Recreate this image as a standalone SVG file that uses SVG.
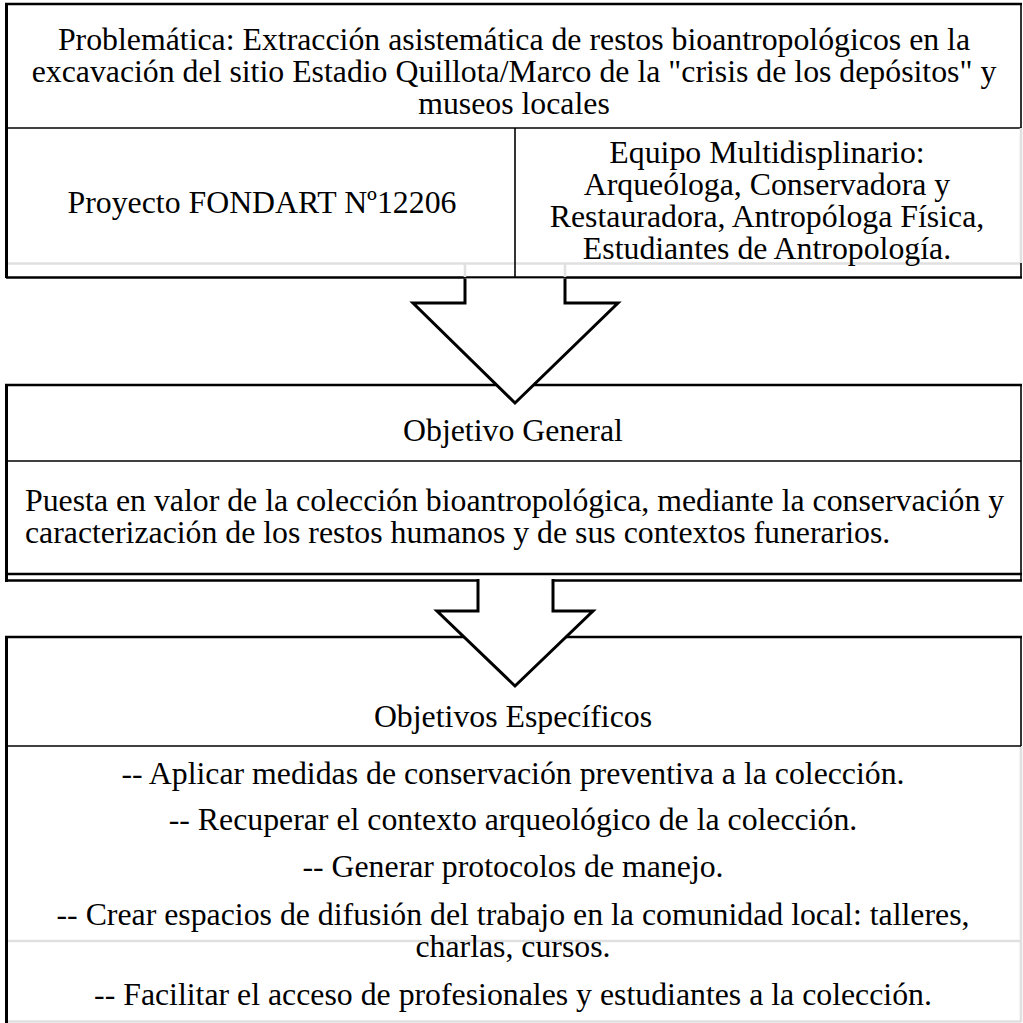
<svg xmlns="http://www.w3.org/2000/svg" width="1023" height="1023" viewBox="0 0 1023 1023">
<style>
text{font-family:"Liberation Serif","Times New Roman",serif;font-size:31.8px;fill:#000}
.c{text-anchor:middle}
.k{stroke:#000;stroke-width:1.6;fill:none}
.kt{stroke:#000;stroke-width:2.4;fill:none}
.kl{stroke:#000;stroke-width:3;fill:none}
.g{stroke:#e0e0e0;stroke-width:2.6;fill:none}
.arrow{fill:#fff;stroke:#000;stroke-width:3;stroke-linejoin:miter}
</style>
<rect width="1023" height="1023" fill="#fff"/>
<g id="problematica">
<line class="kt" x1="5" y1="4" x2="1022" y2="4"/>
<line class="k" x1="1021" y1="4" x2="1021" y2="128"/>
<line class="k" x1="6" y1="128" x2="1021" y2="128"/>
<line class="g" x1="1021" y1="128" x2="1021" y2="263"/>
<line class="g" x1="6" y1="263.5" x2="1021" y2="263.5"/>
<line class="k" x1="1021" y1="263" x2="1021" y2="278"/>
<line class="kt" x1="6" y1="277.5" x2="1022" y2="277.5"/>
<line class="k" x1="515" y1="128" x2="515" y2="278"/>
<line class="kl" x1="6.5" y1="3" x2="6.5" y2="278"/>
<text class="c" x="514" y="50">Problemática: Extracción asistemática de restos bioantropológicos en la</text>
<text class="c" x="514" y="82">excavación del sitio Estadio Quillota/Marco de la "crisis de los depósitos" y</text>
<text class="c" x="514" y="114">museos locales</text>
</g>
<g id="proyecto">
<text class="c" x="262" y="213">Proyecto FONDART Nº12206</text>
</g>
<g id="equipo">
<text class="c" x="767" y="163">Equipo Multidisplinario:</text>
<text class="c" x="767" y="195">Arqueóloga, Conservadora y</text>
<text class="c" x="767" y="227">Restauradora, Antropóloga Física,</text>
<text class="c" x="767" y="259">Estudiantes de Antropología.</text>
</g>
<g id="objetivo-general">
<line class="kt" x1="5" y1="385" x2="1022" y2="385"/>
<line class="k" x1="1021" y1="385" x2="1021" y2="581"/>
<line class="k" x1="6" y1="461" x2="1021" y2="461"/>
<line class="kt" x1="6" y1="574" x2="1022" y2="574"/>
<line class="kt" x1="6" y1="580.5" x2="1022" y2="580.5"/>
<line class="kl" x1="6.5" y1="384" x2="6.5" y2="582"/>
<text class="c" x="513" y="441">Objetivo General</text>
<text x="25" y="511">Puesta en valor de la colección bioantropológica, mediante la conservación y</text>
<text x="25" y="543">caracterización de los restos humanos y de sus contextos funerarios.</text>
</g>
<g id="objetivos-especificos">
<line class="kt" x1="5" y1="637" x2="1022" y2="637"/>
<line class="k" x1="1021" y1="637" x2="1021" y2="746"/>
<line class="g" x1="1021" y1="746" x2="1021" y2="1022"/>
<line class="k" x1="6" y1="746" x2="1021" y2="746"/>
<line class="g" x1="6" y1="941" x2="1021" y2="941"/>
<line class="g" x1="6" y1="1021.5" x2="1021" y2="1021.5"/>
<line class="kl" x1="6.5" y1="636" x2="6.5" y2="1023"/>
<text class="c" x="513" y="727">Objetivos Específicos</text>
<text class="c" x="513" y="784">-- Aplicar medidas de conservación preventiva a la colección.</text>
<text class="c" x="513" y="830">-- Recuperar el contexto arqueológico de la colección.</text>
<text class="c" x="513" y="877">-- Generar protocolos de manejo.</text>
<text class="c" x="513" y="925">-- Crear espacios de difusión del trabajo en la comunidad local: talleres,</text>
<text class="c" x="513" y="957">charlas, cursos.</text>
<text class="c" x="513" y="1005">-- Facilitar el acceso de profesionales y estudiantes a la colección.</text>
</g>
<g id="connectors">
<line class="g" x1="465" y1="263" x2="465" y2="277"/>
<line class="g" x1="565" y1="263" x2="565" y2="277"/>
<path class="arrow" d="M465,278.5 L465,303 L413,303 L515,403 L618,303 L565,303 L565,278.5"/>
<path class="arrow" d="M478,579 L478,611 L437,611 L515,686 L593,611 L553,611 L553,579"/>
</g>
</svg>
